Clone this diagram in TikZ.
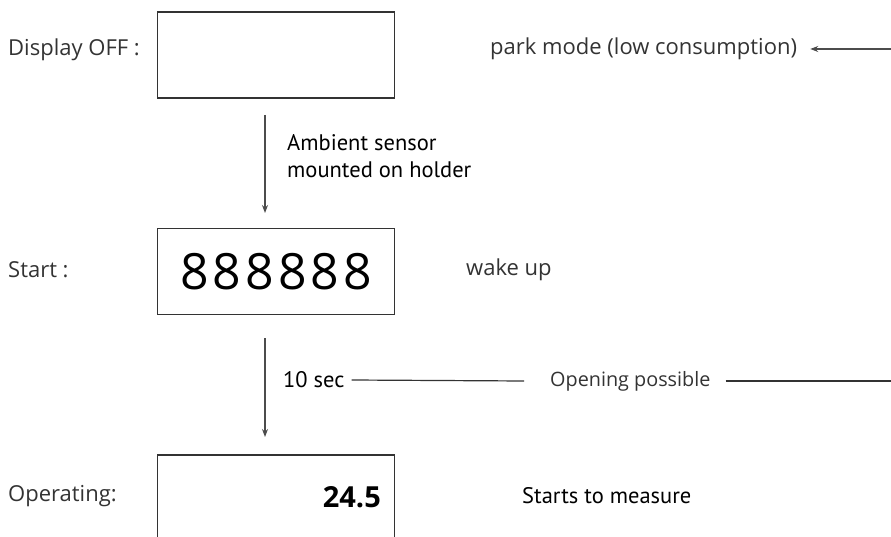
\documentclass[tikz,border=0pt]{standalone}
\usepackage{fontspec}
\setmainfont{Open Sans}
\newfontfamily\notefont{PT Sans}
\newfontfamily\digitfont{Open Sans}
\usetikzlibrary{arrows.meta}

\begin{document}
\begin{tikzpicture}[x=1pt,y=-1pt,
  lcd/.style={draw=black!80,line width=1.3pt,minimum width=237pt,minimum height=86pt,inner sep=0pt},
  state/.style={anchor=west,text=black!80,inner sep=0pt,font=\fontsize{22}{24}\selectfont},
  note/.style={anchor=west,align=left,inner sep=0pt,font=\notefont\fontsize{22.5}{27}\selectfont},
  flow/.style={draw=black!70,line width=1.2pt,-{Stealth[length=8pt,width=6pt]}},
  rule/.style={draw=black!80,line width=1.2pt}]
\clip (0,0) rectangle (891,537);
\useasboundingbox (0,0) rectangle (891,537);

% displays
\node[lcd] (off) at (276,55) {};
\node[lcd] (start) at (276,271.5) {\digitfont\addfontfeature{LetterSpace=8}\fontsize{50}{50}\selectfont 888888};
\node[lcd,minimum height=170pt] (oper) at (276,540) {};
\node[anchor=east,inner sep=0pt,font=\digitfont\bfseries\fontsize{29}{29}\selectfont] (value) at (381,497) {24.5};

% left labels
\node[state] (loff) at (8,50) {Display OFF :};
\node[state] (lstart) at (8,270) {Start :};
\node[state] (loper) at (8,496) {Operating:};

% right labels
\node[state] (park) at (490,49) {park mode (low consumption)};
\node[state] (wake) at (466,270) {wake up};
\node[note] (sensor) at (287,156) {Ambient sensor\\mounted on holder};
\node[note] (tensec) at (283,380) {10 sec};
\node[state,font=\fontsize{19.8}{21}\selectfont] (open) at (550,381) {Opening possible};
\node[note] (measure) at (522,496) {Starts to measure};

\coordinate (a1) at (265,115);
\coordinate (b1) at (265,213);
\coordinate (a2) at (265,338);
\coordinate (b2) at (265,437);
\coordinate (edge1) at (891,49);
\coordinate (edge2) at (891,381);

\draw[flow] (a1) -- (b1);
\draw[flow] (a2) -- (b2);
\draw[flow] (edge1) -- ([xshift=13pt]park.east);
\draw[rule] ([xshift=7pt]tensec.east) -- ([xshift=-26pt]open.west);
\draw[rule] ([xshift=15pt]open.east) -- (edge2);
\end{tikzpicture}
\end{document}
